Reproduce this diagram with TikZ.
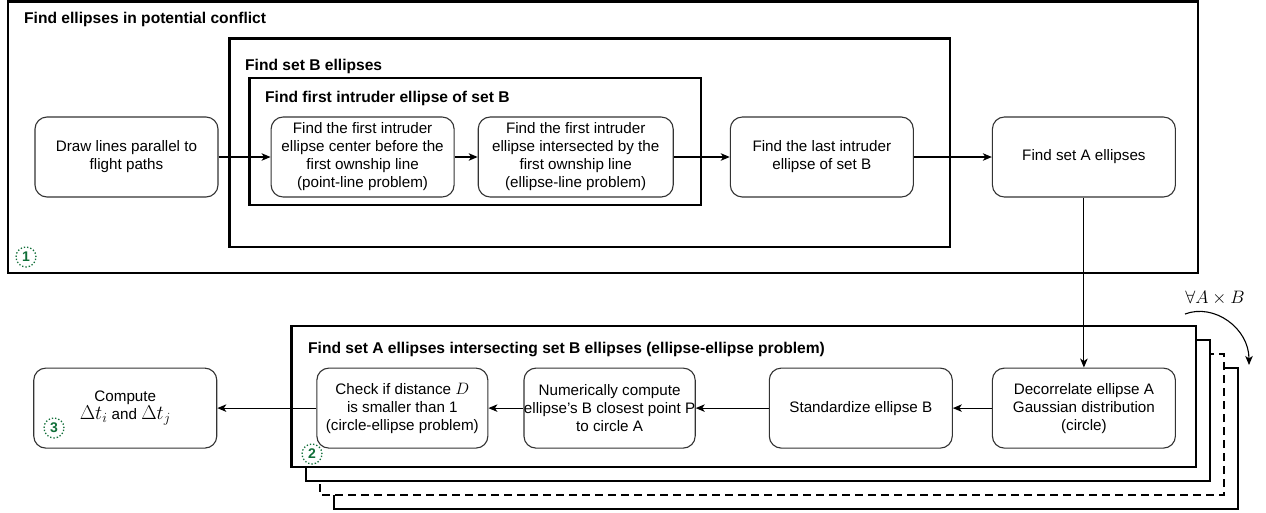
\RequirePackage{fix-cm}
\documentclass[tikz,border=0pt]{standalone}
\usepackage{fontspec}
\setmainfont{Liberation Sans}
\usepackage{xcolor}
\usepackage{tikz}
\usetikzlibrary{arrows.meta, positioning, calc}
\definecolor{stepgreen}{RGB}{16,110,56}
\newcommand{\bigmath}[2][17.5]{{\fontsize{#1}{18}\selectfont$#2$}}

\begin{document}
\begin{tikzpicture}[x=1pt, y=-1pt, font=\fontsize{15.2}{18}\selectfont, node distance=50pt]
	\tikzset{
		task/.style={draw=black!80, line width=1.1pt, rounded corners=12pt, minimum width=183pt, minimum height=80pt, align=center, fill=white, inner sep=2pt},
		narrow/.style={task, minimum width=171pt, inner xsep=0pt},
		frame/.style={draw=black, line width=2.6pt, fill=white},
		title/.style={anchor=west, font=\fontsize{15.6}{18}\selectfont\bfseries, inner sep=0pt},
		flow/.style={line width=1.1pt, -{Stealth[length=9pt, width=7.5pt, inset=2.5pt]}},
		badge/.style={circle, draw=stepgreen, dash pattern=on 1.3pt off 2pt, line width=1.3pt, minimum size=20pt, inner sep=0pt, text=stepgreen, font=\fontsize{14}{14}\selectfont\bfseries}
	}
	\useasboundingbox (0,0) rectangle (1266,512);

	\draw[frame] (8,1.5) rectangle (1198,273);
	\draw[frame] (229.5,38.5) rectangle (950,247);
	\draw[frame] (249.5,78) rectangle (701,205);
	\node[title] (t1) at (24,19) {Find ellipses in potential conflict};
	\node[title] (t2) at (245,66) {Find set B ellipses};
	\node[title] (t3) at (265,98) {Find first intruder ellipse of set B};

	\draw[frame] (334,368) rectangle (1238,509);
	\draw[frame, dash pattern=on 8pt off 5pt] (320,354) rectangle (1224,495);
	\draw[frame] (306,340) rectangle (1210,481);
	\draw[frame] (291.5,326) rectangle (1196,467);
	\node[title] (t4) at (308,349) {Find set A ellipses intersecting set B ellipses (ellipse-ellipse problem)};

	\node[task] (lines) at (126.5,157) {Draw lines parallel to\\flight paths};
	\node[task, right=52pt of lines] (first) {Find the first intruder\\ellipse center before the\\first ownship line\\(point-line problem)};
	\node[task, minimum width=195pt, right=23pt of first] (second) {Find the first intruder\\ellipse intersected by the\\first ownship line\\(ellipse-line problem)};
	\node[task, right=56pt of second] (last) {Find the last intruder\\ellipse of set B};
	\node[task, right=78pt of last] (setA) {Find set A ellipses};

	\node[task, below=170pt of setA] (decorr) {Decorrelate ellipse A\\Gaussian distribution\\(circle)};
	\node[task, left=39pt of decorr] (std) {Standardize ellipse B};
	\node[narrow, left=73pt of std] (closest) {Numerically compute\\ellipse's B closest point P\\to circle A};
	\node[narrow, left=35pt of closest] (check) {Check if distance \bigmath[16.5]{D}\\is smaller than 1\\(circle-ellipse problem)};
	\node[task, left=99pt of check] (compute) {Compute\\\bigmath[20]{\Delta t_i} and \bigmath[20]{\Delta t_j}};

	\draw[flow] (lines) -- (first);
	\draw[flow] (first) -- (second);
	\draw[flow] (second) -- (last);
	\draw[flow] (last) -- (setA);
	\draw[flow] (setA) -- (decorr);
	\draw[flow] (decorr) -- (std);
	\draw[flow] (std) -- (closest);
	\draw[flow] (closest) -- (check);
	\draw[flow] (check) -- (compute);

	\node[badge] (b1) at (26,257) {1};
	\node[badge] (b2) at (312,454) {2};
	\node[badge] (b3) at (54,428) {3};

	\node (loop) at (1215,298) {\bigmath[18]{\forall A\times B}};
	\coordinate (loopS) at (1185,314);
	\coordinate (loopE) at (1249,365);
	\draw[flow] (loopS) .. controls (1214,303) and (1249,328) .. (loopE);
\end{tikzpicture}
\end{document}
